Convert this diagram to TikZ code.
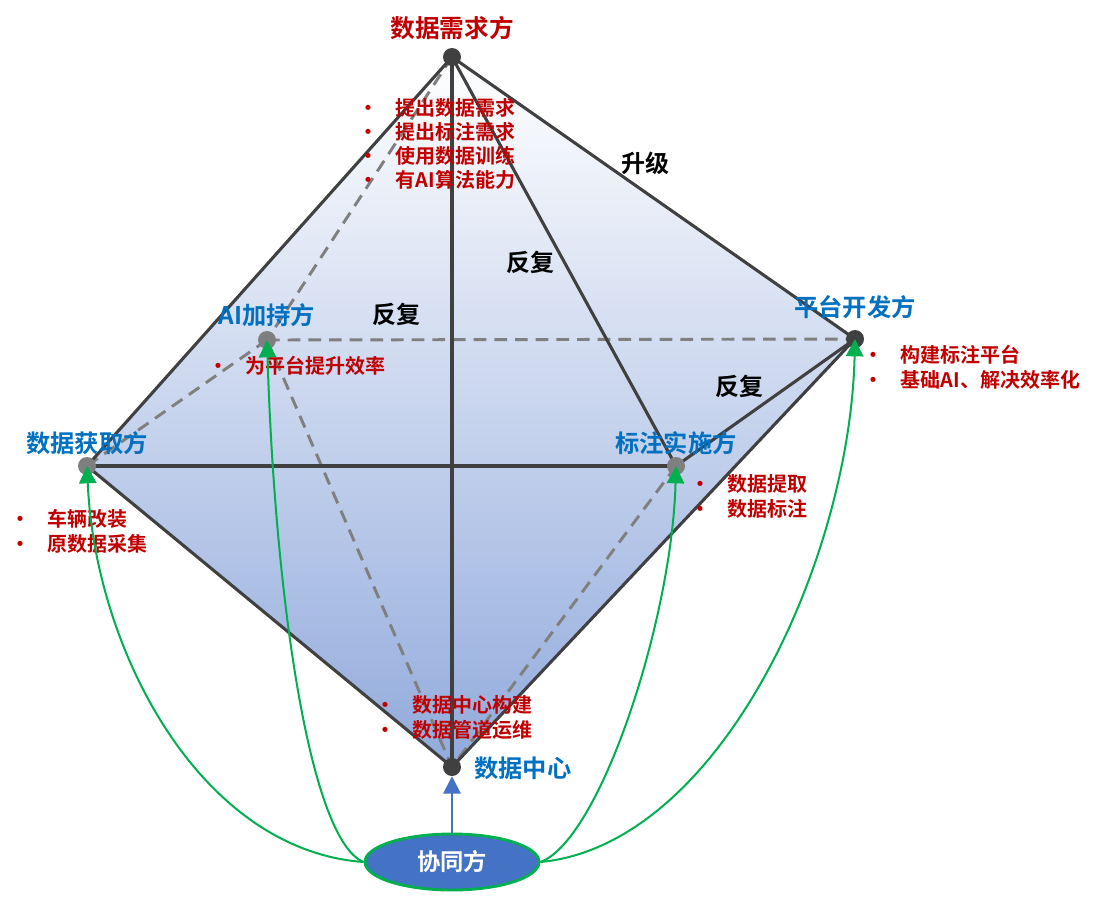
\documentclass[tikz,border=0pt]{standalone}
\usepackage{fontspec}
\setmainfont{Noto Sans CJK SC}[BoldFont={* Bold}]
\usetikzlibrary{arrows.meta,shapes.geometric}
\definecolor{cred}{RGB}{192,0,0}
\definecolor{cblue}{RGB}{0,112,192}
\definecolor{cline}{RGB}{64,64,64}
\definecolor{cdash}{RGB}{127,127,127}
\definecolor{cgreen}{RGB}{0,176,80}
\definecolor{cfill}{RGB}{68,114,196}
\definecolor{midblue}{RGB}{228,233,246}
\definecolor{botblue}{RGB}{145,170,220}
\newcommand\bitem[1]{\makebox[0pt][c]{•}\hspace{20.5pt}#1}
\begin{document}
\begin{tikzpicture}[x=0.75pt,y=-0.75pt,
  solidedge/.style={draw=cline,line width=2.3pt},
  dashedge/.style={draw=cdash,line width=2.2pt,dash pattern=on 9.5pt off 6pt},
  darkdot/.style={circle,fill=cline,inner sep=0pt,minimum size=13.5pt},
  graydot/.style={circle,fill=cdash,inner sep=0pt,minimum size=13.5pt},
  redlist/.style={anchor=west,inner sep=0pt,align=left,text=cred,font=\fontsize{15}{18.75}\selectfont\bfseries},
  bluelabel/.style={text=cblue,inner sep=0pt,font=\fontsize{18.2}{20}\selectfont\bfseries},
  edgelabel/.style={text=black,inner sep=0pt,font=\fontsize{18}{20}\selectfont\bfseries},
  greenarrow/.style={draw=cgreen,line width=1.5pt,-{Triangle[width=13pt,length=13pt]}},
  bluearrow/.style={draw=cfill,line width=1.5pt,-{Triangle[width=13pt,length=13pt]}}
]
\useasboundingbox (0,0) rectangle (1101,908);
% vertices
\coordinate (cT) at (452,57);
\coordinate (cA) at (267,340);
\coordinate (cP) at (855,339);
\coordinate (cL) at (87,466);
\coordinate (cM) at (676,466);
\coordinate (cB) at (452,767);
% shaded body
\shade[top color=white,middle color=midblue,bottom color=botblue]
  (cT) -- (cL) -- (cB) -- (cP) -- cycle;
% hidden (dashed) edges
\draw[dashedge] (cT) -- (cA);
\draw[dashedge] (cA) -- (cP);
\draw[dashedge] (cA) -- (cL);
\draw[dashedge] (cA) -- (cB);
\draw[dashedge] (cM) -- (cB);
% visible edges
\draw[solidedge] (cT) -- (cL);
\draw[solidedge] (cT) -- (cB);
\draw[solidedge] (cT) -- (cM);
\draw[solidedge] (cT) -- (cP);
\draw[solidedge] (cL) -- (cM);
\draw[solidedge] (cL) -- (cB);
\draw[solidedge] (cB) -- (cP);
\draw[solidedge] (cM) -- (cP);
% dots
\node[darkdot] (T) at (cT) {};
\node[graydot] (A) at (cA) {};
\node[darkdot] (P) at (cP) {};
\node[graydot] (L) at (cL) {};
\node[graydot] (M) at (cM) {};
\node[darkdot] (B) at (cB) {};
% labels
\node[text=cred,inner sep=0pt,font=\fontsize{18.5}{20}\selectfont\bfseries] (tT) at (452,28) {数据需求方};
\node[bluelabel] (tA) at (267,315) {AI加持方};
\node[bluelabel] (tP) at (855,307) {平台开发方};
\node[bluelabel] (tL) at (87,443) {数据获取方};
\node[bluelabel] (tM) at (676,443) {标注实施方};
\node[bluelabel,anchor=west] (tB) at (474,768) {数据中心};
\node[edgelabel] (e1) at (645,163) {升级};
\node[edgelabel] (e2) at (530,262) {反复};
\node[edgelabel] (e3) at (396,314) {反复};
\node[edgelabel] (e4) at (739,386) {反复};
% bullet lists
\node[redlist,font=\fontsize{15}{18}\selectfont\bfseries] (lT) at (368,144) {\bitem{提出数据需求}\\\bitem{提出标注需求}\\\bitem{使用数据训练}\\\bitem{有AI算法能力}};
\node[redlist] (lA) at (218,366) {\bitem{为平台提升效率}};
\node[redlist] (lL) at (20,531.5) {\bitem{车辆改装}\\\bitem{原数据采集}};
\node[redlist] (lP) at (873,367) {\bitem{构建标注平台}\\\bitem{基础AI、解决效率化}};
\node[redlist] (lM) at (700,496.5) {\bitem{数据提取}\\\bitem{数据标注}};
\node[redlist] (lB) at (385,717.5) {\bitem{数据中心构建}\\\bitem{数据管道运维}};
% collaborator
\node[ellipse,draw=cgreen,line width=2.2pt,fill=cfill,minimum width=130.5pt,minimum height=42pt,inner sep=0pt,text=white,font=\fontsize{17.5}{20}\selectfont\bfseries] (X) at (452,862) {协同方};
% connectors
\draw[bluearrow] (X.north) -- (B);
\draw[greenarrow] (X.west) .. controls (200,850) and (95,650) .. (L.center);
\draw[greenarrow] (X.west) .. controls (310,840) and (275,600) .. (A.center);
\draw[greenarrow] (X.east) .. controls (600,840) and (672,620) .. (M.center);
\draw[greenarrow] (X.east) .. controls (720,845) and (850,560) .. (P.center);
\end{tikzpicture}
\end{document}
